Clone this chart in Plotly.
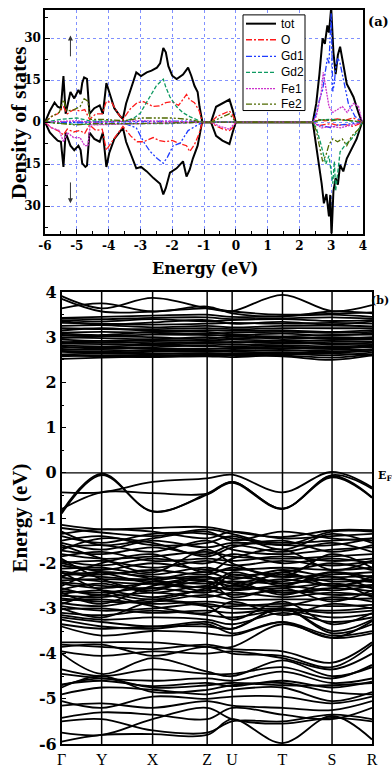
import plotly.graph_objects as go

# ---------------- Panel (a): DOS data ----------------
TOT_UP_E = [-6.0,-5.85,-5.7,-5.6,-5.5,-5.42,-5.35,-5.2,-5.08,-4.95,-4.88,-4.83,-4.77,-4.68,-4.6,-4.45,-4.28,-4.18,-4.07,-3.98,-3.82,-3.63,-3.55,-3.45,-3.3,-3.13,-2.98,-2.8,-2.65,-2.48,-2.38,-2.28,-2.2,-2.12,-2.0,-1.86,-1.66,-1.5,-1.4,-1.3,-1.2,-1.14,-1.05,-0.78,-0.62,-0.42,-0.2,-0.1,0.0,2.42,2.53,2.63,2.68,2.73,2.8,2.88,2.93,3.0,3.07,3.14,3.21,3.28,3.38,3.49,3.59,3.7,3.86,3.97,4.0]
TOT_UP = [0,4,7,5.5,5,16.5,3,10.8,8.5,11.5,10,14,16,15.5,3,5,6,3,14,11,5,2,1.2,6.7,12,17.8,16.5,17.8,18.4,19.5,21,26.5,25,20,16.6,15.4,17,19.5,16.6,13,10.8,5.5,0,0,5.5,6.7,8.1,4.4,0,0,6.7,17.2,23,30,28,34.6,32,41,25,17.2,24,27,20.7,13.7,11.5,9,3.3,0,0]
TOT_DN_E = [-6.0,-5.85,-5.7,-5.6,-5.5,-5.42,-5.35,-5.2,-5.08,-4.95,-4.88,-4.83,-4.73,-4.68,-4.6,-4.45,-4.28,-4.18,-4.07,-3.98,-3.82,-3.63,-3.55,-3.45,-3.3,-3.13,-2.98,-2.8,-2.59,-2.38,-2.28,-2.2,-2.07,-1.86,-1.66,-1.55,-1.45,-1.35,-1.2,-1.06,-0.78,-0.62,-0.42,-0.2,-0.1,0.0,2.42,2.53,2.63,2.7,2.77,2.85,2.93,2.97,3.01,3.07,3.14,3.21,3.28,3.38,3.49,3.64,3.8,3.97,4.0]
TOT_DN = [0,-3.7,-5.5,-6.6,-7,-16,-3.7,-8.4,-10,-8.4,-10,-14.7,-16,-15.5,-3.7,-6,-7,-3.7,-16,-11,-6,-3.1,-2,-7,-11.6,-16.5,-16,-17.6,-20,-22,-25.8,-23.5,-18,-16.5,-14,-19.4,-17,-13,-8.4,0,0,-4.9,-6.6,-7.8,-3.7,0,0,-8.4,-16.5,-22,-29,-25.7,-33.7,-26,-41,-24.6,-20,-22.3,-15.3,-17.6,-13,-9.5,-6,0,0]

O_E = [-6,-5.8,-5.6,-5.42,-5.3,-5.1,-4.9,-4.75,-4.6,-4.4,-4.2,-4.07,-3.9,-3.7,-3.55,-3.3,-3.1,-2.9,-2.6,-2.4,-2.2,-2.0,-1.8,-1.55,-1.45,-1.3,-1.15,-1.05,-0.78,-0.6,-0.4,-0.2,-0.1,0,2.42,2.6,2.8,3.0,3.2,3.4,3.7,3.97,4]
O_UP = [0,2,3,5.5,3,4.5,4,4.5,1,3,3,7.5,7,3,1,5,7,7.3,5.6,5.8,7,7.3,6,9.9,8,7,4,0,0,2,3,4,2.5,0,0,1,0.5,0.8,1.2,0.6,1.5,0,0]
O_DN = [0,-2,-3,-4.5,-2.5,-3.5,-3,-4,-1,-3,-2.5,-10,-7,-4,-1.5,-5,-7,-7,-5.5,-6.6,-7,-6.5,-7.5,-8.4,-10.5,-8,-4,0,0,-1.5,-2.5,-3,-2,0,0,-1.2,-0.8,-0.5,-1.2,-0.8,-1.5,0,0]

GD1_UP_E = [-6,-3.5,-2.5,-1.5,-1.05,2.42,2.53,2.63,2.73,2.83,2.88,2.93,3.0,3.05,3.1,3.14,3.21,3.28,3.38,3.54,3.75,3.97,4]
GD1_UP = [0,0.3,0.5,0.4,0,0,3,8,11.5,19.5,23,21,39,11,14,19.5,23,21,15.4,6.7,2,0,0]
GD1_DN_E = [-6,-3.5,-3.13,-3.0,-2.9,-2.7,-2.47,-2.28,-2.15,-1.97,-1.75,-1.5,-1.35,-1.05,2.42,2.6,2.8,3.0,3.2,3.5,3.97,4]
GD1_DN = [0,-0.5,-2,-4.9,-7,-10.4,-13,-14.7,-12.5,-8.4,-7.5,-3,-2,0,0,-1,-1.5,-2,-1,-0.8,0,0]

GD2_UP_E = [-6,-5.5,-5.0,-4.6,-3.5,-3.2,-3.0,-2.8,-2.65,-2.5,-2.28,-2.2,-2.07,-1.86,-1.65,-1.45,-1.05,2.42,2.7,3.0,3.3,3.97,4]
GD2_UP = [0,1,1.5,0.5,0.3,1.5,3.3,7.3,10,13,15.4,12.5,9,5.5,3.3,2,0,0,0.8,1,0.8,0,0]
GD2_DN_E = [-6,-5,-3,-2,-1.05,2.42,2.53,2.68,2.83,2.93,3.05,3.1,3.14,3.21,3.28,3.45,3.64,3.85,3.97,4]
GD2_DN = [0,-0.8,-0.5,-0.5,0,0,-2,-8,-15,-12,-22,-14,-24.6,-17,-10.6,-8,-6,-3,0,0]

FE1_UP_E = [-6,-5,-4.6,-3,-1.05,2.42,2.53,2.68,2.75,2.83,2.93,3.05,3.2,3.35,3.5,3.7,3.86,3.97,4]
FE1_UP = [0,0.5,0,0.5,0,0,2,10,17.8,12.5,5.6,3.5,4.4,5.6,3.5,6.7,5.6,0,0]
FE1_DN_E = [-6,-5.8,-5.55,-5.42,-5.3,-5.1,-4.9,-4.75,-4.65,-4.58,-3,-1.05,-0.78,-0.5,-0.2,0,2.42,2.7,3.0,3.3,3.6,3.97,4]
FE1_DN = [0,-2,-3,-7,-3.7,-5.5,-5.5,-8.4,-8.4,-1,-0.5,0,0,-1.5,-2.5,0,0,-2,-1.5,-2,-1,0,0]

FE2_UP_E = [-6,-5.8,-5.55,-5.42,-5.3,-5.1,-4.9,-4.77,-4.65,-4.58,-4.2,-3.5,-3,-2,-1.5,-1.05,-0.78,-0.5,-0.2,0,2.42,2.7,3.0,3.3,3.97,4]
FE2_UP = [0,2,3.5,8,4,4.4,5.5,8.4,7.5,1,1,0.5,1.5,1.5,1,0,0,1.5,3,0,0,1,0.5,1,0,0]
FE2_DN_E = [-6,-5,-4.6,-3,-1.05,2.42,2.53,2.63,2.73,2.83,2.93,3.05,3.2,3.35,3.49,3.64,3.86,3.97,4]
FE2_DN = [0,-1,-0.5,-0.5,0,0,-3,-8,-14,-12,-8,-6,-7,-6,-8.4,-5,-2.5,0,0]

DOS_X_TICKS = [-6, -5, -4, -3, -2, -1, 0, 1, 2, 3, 4]
DOS_X_LABELS = ["-6", "-5", "-4", "-3", "-2", "-1", "0", "1", "2", "3", "4"]
DOS_Y_TICKS = [-30, -15, 0, 15, 30]
DOS_Y_LABELS = ["30", "15", "0", "15", "30"]
LEGEND_NAMES = ["tot", "O", "Gd1", "Gd2", "Fe1", "Fe2"]

# ---------------- Panel (b): band structure ----------------
K_LABELS = ["Γ", "Y", "X", "Z", "U", "T", "S", "R"]
K_POS = [0, 40, 91, 145.6, 170.6, 221, 270.6, 310.6]
BAND_Y_TICKS = [-6, -5, -4, -3, -2, -1, 0, 1, 2, 3, 4]
BAND_Y_LABELS = ["-6", "-5", "-4", "-3", "-2", "-1", "0", "1", "2", "3", "4"]

CB = [
    [3.91, 3.64, 3.87, 3.64, 3.58, 3.94, 3.58, 3.71],
    [3.85, 3.57, 3.57, 3.64, 3.57, 3.50, 3.52, 3.55],
    [3.64, 3.75, 3.57, 3.68, 3.53, 3.46, 3.57, 3.53],
    [3.43, 3.45, 3.48, 3.50, 3.45, 3.47, 3.50, 3.45],
    [3.42, 3.40, 3.43, 3.44, 3.40, 3.42, 3.44, 3.41],
    [3.38, 3.35, 3.40, 3.35, 3.38, 3.40, 3.36, 3.38],
    [3.36, 3.28, 3.33, 3.38, 3.30, 3.34, 3.28, 3.35],
    [3.32, 3.30, 3.28, 3.30, 3.32, 3.30, 3.32, 3.30],
    [3.25, 3.27, 3.22, 3.25, 3.22, 3.25, 3.26, 3.24],
    [3.20, 3.18, 3.18, 3.20, 3.18, 3.20, 3.20, 3.20],
    [3.15, 3.20, 3.14, 3.16, 3.14, 3.15, 3.12, 3.16],
    [3.10, 3.12, 3.10, 3.08, 3.10, 3.12, 3.10, 3.12],
    [3.08, 3.05, 3.12, 3.12, 3.06, 3.08, 3.04, 3.09],
    [3.05, 3.03, 3.06, 3.05, 3.04, 3.02, 3.05, 3.06],
    [3.00, 2.98, 2.96, 3.00, 2.98, 3.00, 2.97, 3.00],
    [2.98, 3.02, 3.00, 2.96, 3.02, 2.96, 3.00, 2.97],
    [2.95, 2.92, 2.94, 2.93, 2.95, 2.92, 2.94, 2.95],
    [2.90, 2.88, 2.90, 2.88, 2.90, 2.88, 2.90, 2.90],
    [2.88, 2.92, 2.86, 2.90, 2.88, 2.92, 2.84, 2.88],
    [2.86, 2.85, 2.84, 2.86, 2.84, 2.86, 2.86, 2.85],
    [2.82, 2.80, 2.82, 2.80, 2.80, 2.82, 2.80, 2.82],
    [2.79, 2.75, 2.78, 2.82, 2.78, 2.79, 2.77, 2.80],
    [2.76, 2.78, 2.75, 2.75, 2.76, 2.76, 2.75, 2.78],
    [2.72, 2.72, 2.70, 2.70, 2.72, 2.70, 2.72, 2.72],
    [2.70, 2.68, 2.72, 2.72, 2.70, 2.72, 2.68, 2.74],
    [2.68, 2.66, 2.68, 2.68, 2.68, 2.66, 2.66, 2.70],
    [2.62, 2.64, 2.63, 2.65, 2.64, 2.64, 2.60, 2.66],
    [2.60, 2.58, 2.56, 2.58, 2.56, 2.62, 2.64, 2.60],
    [2.58, 2.60, 2.60, 2.62, 2.62, 2.60, 2.55, 2.62],
    [2.52, 2.55, 2.58, 2.60, 2.60, 2.58, 2.50, 2.60],
]

VB_TOP = [
    [-0.86, -0.02, -0.86, -0.46, -0.20, -0.79, -0.07, -0.54],
    [-0.43, -0.43, -0.20, -0.12, -0.04, -0.43, 0.02, -0.32],
    [-0.80, -0.43, -0.45, -0.46, -0.20, -0.79, -0.10, -0.55],
    [-0.90, -0.05, -0.85, -0.48, -0.22, -0.80, -0.05, -0.35],
]

VB_MID = [
    [-1.15, -1.25, -1.22, -1.20, -1.30, -1.42, -1.27, -1.27],
    [-1.22, -1.32, -1.40, -1.25, -1.35, -1.60, -1.30, -1.30],
    [-1.30, -1.60, -1.45, -1.30, -1.50, -1.30, -1.45, -1.50],
    [-1.35, -1.25, -1.30, -1.45, -1.30, -1.45, -1.40, -1.35],
    [-1.40, -1.55, -1.35, -1.35, -1.45, -1.55, -1.50, -1.45],
    [-1.50, -1.40, -1.60, -1.55, -1.40, -1.70, -1.35, -1.55],
    [-1.55, -1.70, -1.50, -1.65, -1.55, -1.60, -1.60, -1.45],
    [-1.60, -1.90, -2.20, -1.70, -2.00, -2.30, -1.80, -2.10],
    [-1.65, -1.60, -1.75, -1.50, -1.70, -1.80, -1.70, -1.65],
    [-1.70, -1.45, -1.55, -1.85, -1.65, -1.50, -1.75, -1.60],
    [-1.72, -1.80, -1.65, -1.80, -1.60, -1.75, -1.55, -1.75],
    [-1.80, -1.90, -1.85, -1.75, -1.85, -1.90, -1.85, -1.80],
    [-1.85, -1.75, -1.95, -1.90, -1.95, -1.85, -1.95, -1.90],
    [-1.90, -2.35, -2.60, -2.30, -2.60, -2.20, -2.50, -2.35],
    [-1.95, -2.05, -1.90, -2.00, -1.80, -2.00, -1.90, -2.00],
    [-2.00, -1.95, -2.10, -1.95, -2.05, -1.95, -2.05, -1.95],
    [-2.00, -2.20, -2.45, -2.50, -2.20, -2.45, -2.30, -2.55],
    [-2.05, -2.15, -2.00, -2.15, -2.15, -2.10, -2.15, -2.10],
    [-2.12, -2.10, -2.25, -2.10, -2.25, -2.20, -2.00, -2.15],
    [-2.18, -2.25, -2.15, -2.25, -2.10, -2.30, -2.25, -2.20],
    [-2.20, -2.60, -2.80, -2.55, -2.40, -2.70, -2.45, -2.75],
    [-2.22, -2.30, -2.35, -2.20, -2.35, -2.15, -2.30, -2.28],
    [-2.28, -2.20, -2.30, -2.35, -2.30, -2.40, -2.20, -2.32],
    [-2.30, -2.00, -1.80, -2.20, -1.90, -1.70, -2.15, -1.95],
    [-2.32, -2.40, -2.45, -2.30, -2.45, -2.25, -2.40, -2.38],
    [-2.38, -2.35, -2.40, -2.45, -2.40, -2.45, -2.35, -2.42],
    [-2.42, -2.50, -2.55, -2.40, -2.50, -2.35, -2.50, -2.48],
    [-2.45, -2.55, -2.45, -2.55, -2.55, -2.55, -2.45, -2.55],
    [-2.50, -2.20, -2.35, -2.60, -2.25, -2.50, -2.20, -2.40],
    [-2.55, -2.70, -2.40, -2.30, -2.45, -2.65, -2.55, -2.30],
    [-2.58, -2.45, -2.65, -2.50, -2.60, -2.50, -2.60, -2.50],
    [-2.62, -2.65, -2.55, -2.65, -2.50, -2.65, -2.55, -2.62],
    [-2.65, -2.90, -2.50, -2.40, -2.75, -2.55, -2.85, -2.60],
    [-2.68, -2.60, -2.75, -2.60, -2.70, -2.60, -2.70, -2.68],
    [-2.72, -2.75, -2.65, -2.75, -2.65, -2.75, -2.65, -2.72],
    [-2.78, -2.85, -2.85, -2.70, -2.80, -2.80, -2.80, -2.78],
    [-2.82, -2.80, -2.90, -2.85, -2.90, -2.95, -2.75, -2.85],
    [-2.88, -2.95, -2.80, -2.95, -2.95, -2.90, -2.95, -2.92],
    [-2.90, -2.70, -2.95, -3.10, -2.85, -3.15, -2.90, -3.00],
    [-2.95, -3.05, -3.00, -2.90, -3.00, -3.00, -3.05, -2.98],
    [-3.00, -3.20, -2.85, -2.95, -3.25, -2.85, -3.35, -3.10],
    [-3.02, -3.00, -3.10, -3.05, -3.10, -3.02, -3.10, -3.05],
    [-3.10, -3.15, -3.05, -3.15, -3.20, -3.05, -3.20, -3.12],
    [-3.15, -3.25, -3.20, -3.25, -3.35, -3.10, -3.30, -3.20],
    [-3.20, -3.30, -3.40, -3.30, -3.45, -3.00, -3.50, -3.25],
    [-3.25, -3.40, -3.45, -3.35, -3.55, -3.30, -3.65, -3.28],
]

VB_LOW = [
    [-3.35, -3.45, -3.40, -3.40, -3.45, -3.00, -3.55, -3.35],
    [-3.40, -3.60, -3.50, -3.55, -3.60, -3.30, -3.60, -3.50],
    [-3.75, -3.75, -3.75, -3.85, -3.85, -3.35, -3.65, -3.55],
    [-3.80, -3.85, -3.90, -3.80, -3.90, -3.95, -4.20, -3.75],
    [-3.85, -3.80, -4.05, -3.85, -4.00, -4.05, -4.30, -3.80],
    [-3.95, -4.05, -3.95, -4.00, -3.95, -4.10, -4.35, -4.00],
    [-4.00, -4.45, -4.10, -4.40, -4.50, -4.15, -4.50, -4.30],
    [-4.35, -4.50, -4.35, -4.45, -4.45, -4.30, -4.55, -4.25],
    [-4.45, -4.55, -4.60, -4.55, -4.60, -4.40, -4.65, -4.55],
    [-4.68, -4.60, -4.72, -4.65, -4.72, -4.60, -4.75, -4.62],
    [-4.70, -4.55, -4.75, -4.70, -4.65, -4.70, -4.70, -4.65],
    [-4.75, -4.50, -4.85, -4.80, -4.70, -4.65, -4.85, -4.90],
    [-4.90, -4.75, -4.80, -4.90, -4.80, -4.75, -5.05, -4.85],
    [-5.05, -5.20, -4.95, -5.00, -4.95, -4.95, -5.10, -4.95],
    [-5.15, -5.10, -5.20, -5.05, -5.15, -5.20, -5.25, -5.05],
    [-5.42, -5.30, -5.35, -5.45, -5.20, -5.35, -5.45, -5.20],
    [-5.50, -5.45, -5.70, -5.75, -5.50, -5.50, -5.35, -5.45],
    [-5.75, -5.80, -5.45, -5.20, -5.45, -5.55, -5.42, -5.50],
    [-5.95, -5.80, -5.78, -5.80, -5.45, -5.98, -5.38, -5.90],
]

# ---------------- figure ----------------
W, H = 392, 769
ML, MR, MT, MB = 45, 20, 1, 16
PW, PH = W - ML - MR, H - MT - MB


def pxx(px):
    return (px - ML) / PW


def pxy(py):
    return (H - MB - py) / PH


fig = go.Figure()

fig.add_trace(go.Scatter(x=TOT_UP_E, y=TOT_UP, mode="lines", showlegend=False,
                         line=dict(color="black", width=2)))
fig.add_trace(go.Scatter(x=TOT_DN_E, y=TOT_DN, mode="lines", showlegend=False,
                         line=dict(color="black", width=2)))

styles = {
    "tot": ("black", "solid", 2),
    "O": ("#ff1a1a", "6px,2px,2px,2px", 1.3),
    "Gd1": ("#1f3cff", "6px,2px,2px,2px,2px,2px", 1.3),
    "Gd2": ("#0f9a62", "4px,2px", 1.3),
    "Fe1": ("#cc33cc", "2px,1px", 1.3),
    "Fe2": ("#4f6a00", "6px,2px,2px,2px,2px,2px", 1.3),
}
components = [
    ("O", O_E, O_UP, O_E, O_DN),
    ("Gd1", GD1_UP_E, GD1_UP, GD1_DN_E, GD1_DN),
    ("Gd2", GD2_UP_E, GD2_UP, GD2_DN_E, GD2_DN),
    ("Fe1", FE1_UP_E, FE1_UP, FE1_DN_E, FE1_DN),
    ("Fe2", FE2_UP_E, FE2_UP, FE2_DN_E, FE2_DN),
]
for name, eu, vu, ed, vd in components:
    col, dash, w = styles[name]
    for xs, ys in ((eu, vu), (ed, vd)):
        fig.add_trace(go.Scatter(x=xs, y=ys, mode="lines", name=name, showlegend=False,
                                 line=dict(color=col, width=w, dash=dash)))

for band in CB + VB_TOP + VB_MID + VB_LOW:
    fig.add_trace(go.Scatter(x=K_POS, y=band, mode="lines", xaxis="x2", yaxis="y2",
                             showlegend=False, hoverinfo="skip",
                             line=dict(color="black", width=1.8, shape="spline", smoothing=1.0)))

shapes = []
for kp in K_POS[1:-1]:
    shapes.append(dict(type="line", xref="x2", yref="y2", x0=kp, x1=kp, y0=-6, y1=4,
                       line=dict(color="black", width=1.5)))
shapes.append(dict(type="line", xref="x2", yref="y2", x0=K_POS[0], x1=K_POS[-1], y0=0, y1=0,
                   line=dict(color="black", width=1.3)))

# legend box (panel a)
shapes.append(dict(type="rect", xref="paper", yref="paper", layer="above",
                   x0=pxx(243), x1=pxx(305), y0=pxy(104), y1=pxy(6),
                   fillcolor="white", line=dict(color="black", width=1)))
LEG_Y = [15, 31.5, 48.5, 65, 81.5, 97.5]

BOLD_SERIF = "Liberation Serif"
WIDE_SERIF = "DejaVu Serif"

annotations = [
    dict(text="Density of states", xref="paper", yref="paper", x=pxx(18), y=pxy(117),
         xanchor="center", yanchor="middle", textangle=-90, showarrow=False,
         font=dict(family=BOLD_SERIF, size=22, color="black", weight="bold")),
    dict(text="Energy (eV)", xref="paper", yref="paper", x=pxx(205), y=pxy(266),
         xanchor="center", yanchor="middle", showarrow=False,
         font=dict(family=WIDE_SERIF, size=16, color="black", weight="bold")),
    dict(text="Energy (eV)", xref="paper", yref="paper", x=pxx(20), y=pxy(522),
         xanchor="center", yanchor="middle", textangle=-90, showarrow=False,
         font=dict(family=BOLD_SERIF, size=21, color="black", weight="bold")),
    dict(text="(a)", xref="paper", yref="paper", x=pxx(366), y=pxy(13), xanchor="left", yanchor="middle",
         showarrow=False, font=dict(family=WIDE_SERIF, size=13, color="black", weight="bold")),
    dict(text="(b)", xref="paper", yref="paper", x=pxx(391), y=pxy(299), xanchor="right", yanchor="middle",
         showarrow=False, font=dict(family=WIDE_SERIF, size=11, color="black", weight="bold")),
    dict(text="E<sub>F</sub>", xref="paper", yref="paper", x=pxx(376), y=pxy(478), xanchor="left",
         yanchor="middle", showarrow=False,
         font=dict(family=WIDE_SERIF, size=11, color="black", weight="bold")),
    dict(text="", x=-5.2, y=31, ax=-5.2, ay=23, xref="x", yref="y", axref="x", ayref="y",
         showarrow=True, arrowhead=2, arrowsize=1, arrowwidth=1, arrowcolor="#333333"),
    dict(text="", x=-5.2, y=-29, ax=-5.2, ay=-21, xref="x", yref="y", axref="x", ayref="y",
         showarrow=True, arrowhead=2, arrowsize=1, arrowwidth=1, arrowcolor="#333333"),
]
for name, ly in zip(LEGEND_NAMES, LEG_Y):
    col, dash, w = styles[name]
    shapes.append(dict(type="line", xref="paper", yref="paper", layer="above",
                       x0=pxx(246), x1=pxx(276), y0=pxy(ly), y1=pxy(ly),
                       line=dict(color=col, width=w, dash=dash)))
    annotations.append(dict(text=name, xref="paper", yref="paper", x=pxx(279), y=pxy(ly),
                            xanchor="left", yanchor="middle", showarrow=False,
                            font=dict(family="Liberation Sans", size=12, color="black")))

grid_col = "#8090ff"
fig.update_layout(
    width=W, height=H,
    margin=dict(l=ML, r=MR, t=MT, b=MB),
    paper_bgcolor="white", plot_bgcolor="white",
    showlegend=False,
    xaxis=dict(domain=[0, pxx(363)], range=[-6, 4], anchor="y",
               tickmode="array", tickvals=DOS_X_TICKS, ticktext=DOS_X_LABELS,
               ticks="inside", ticklen=5, tickwidth=1.2, tickcolor="black",
               tickfont=dict(family=WIDE_SERIF, size=12, color="black", weight="bold"),
               showline=True, mirror=True, linecolor="black", linewidth=1.5,
               showgrid=True, gridcolor=grid_col, griddash="dot", gridwidth=1, zeroline=False,
               minor=dict(tick0=-6, dtick=0.5, ticks="inside", ticklen=3, tickcolor="black", showgrid=False)),
    yaxis=dict(domain=[pxy(230), 1.0], range=[-39.8, 40.1], anchor="x",
               tickmode="array", tickvals=DOS_Y_TICKS, ticktext=DOS_Y_LABELS,
               ticks="inside", ticklen=5, tickwidth=1.2, tickcolor="black",
               tickfont=dict(family=WIDE_SERIF, size=12, color="black", weight="bold"),
               showline=True, mirror=True, linecolor="black", linewidth=1.5,
               showgrid=True, gridcolor=grid_col, griddash="dot", gridwidth=1, zeroline=False,
               minor=dict(tick0=0, dtick=7.5, ticks="inside", ticklen=3, tickcolor="black", showgrid=False)),
    xaxis2=dict(domain=[pxx(61.7), 1.0], range=[K_POS[0], K_POS[-1]], anchor="y2",
                tickmode="array", tickvals=K_POS, ticktext=K_LABELS, ticks="",
                tickfont=dict(family=BOLD_SERIF, size=16, color="black"),
                showline=True, mirror=True, linecolor="black", linewidth=1.5,
                showgrid=False, zeroline=False),
    yaxis2=dict(domain=[0, pxy(290)], range=[-6, 4], anchor="x2",
                tickmode="array", tickvals=BAND_Y_TICKS, ticktext=BAND_Y_LABELS,
                ticks="inside", ticklen=5, tickwidth=1.2, tickcolor="black",
                tickfont=dict(family=WIDE_SERIF, size=16, color="black", weight="bold"),
                showline=True, mirror=True, linecolor="black", linewidth=1.5,
                showgrid=False, zeroline=False,
                minor=dict(tick0=0, dtick=0.5, ticks="inside", ticklen=3, tickcolor="black", showgrid=False)),
    shapes=shapes,
    annotations=annotations,
)

fig.write_html("out.html", config={"displayModeBar": False},
               post_script="document.body.style.margin='0';document.body.style.overflow='hidden';")
